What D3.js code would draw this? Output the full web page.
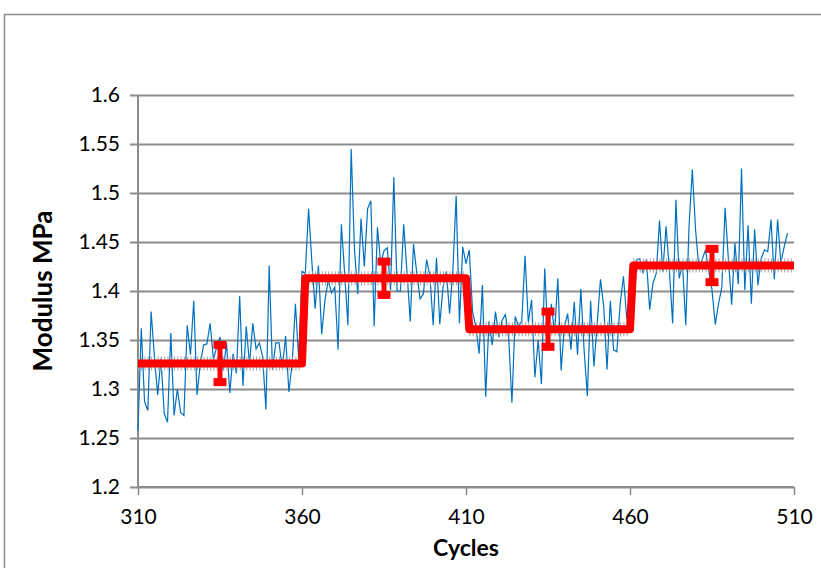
<!DOCTYPE html>
<html>
<head>
<meta charset="utf-8">
<script src="https://cdn.jsdelivr.net/npm/d3@7"></script>
<style>
  body { margin: 0; background: #fff; }
  text { font-family: Lato, "Open Sans", sans-serif; }
</style>
</head>
<body>
<div class="chart"></div>
<script>
let margin = { top: 95, right: 27, bottom: 81, left: 138 };
let width = 821 - margin.left - margin.right;
let height = 568 - margin.top - margin.bottom;

// blue series: one reading per cycle, starting at cycle 310
const firstCycle = 310;
const modulus = [
  1.258, 1.362, 1.287, 1.278, 1.379, 1.333, 1.294, 1.331, 1.275, 1.266,
  1.357, 1.273, 1.300, 1.276, 1.273, 1.365, 1.335, 1.390, 1.294, 1.326,
  1.345, 1.346, 1.367, 1.330, 1.343, 1.353, 1.319, 1.347, 1.296, 1.336,
  1.316, 1.395, 1.303, 1.364, 1.325, 1.367, 1.341, 1.347, 1.333, 1.279,
  1.426, 1.320, 1.347, 1.347, 1.321, 1.354, 1.297, 1.326, 1.387, 1.330,
  1.420, 1.418, 1.484, 1.430, 1.382, 1.426, 1.356, 1.391, 1.411, 1.398,
  1.404, 1.340, 1.468, 1.418, 1.365, 1.545, 1.442, 1.397, 1.474, 1.425,
  1.484, 1.492, 1.364, 1.465, 1.428, 1.441, 1.444, 1.401, 1.516, 1.400,
  1.400, 1.468, 1.420, 1.369, 1.448, 1.418, 1.392, 1.397, 1.432, 1.415,
  1.365, 1.434, 1.366, 1.404, 1.420, 1.377, 1.421, 1.497, 1.367, 1.445,
  1.428, 1.442, 1.379, 1.364, 1.336, 1.406, 1.292, 1.369, 1.345, 1.379,
  1.353, 1.370, 1.376, 1.353, 1.286, 1.374, 1.364, 1.369, 1.436, 1.368,
  1.391, 1.312, 1.350, 1.305, 1.423, 1.350, 1.387, 1.357, 1.413, 1.319,
  1.364, 1.377, 1.340, 1.389, 1.335, 1.402, 1.340, 1.293, 1.390, 1.323,
  1.367, 1.412, 1.384, 1.320, 1.390, 1.340, 1.338, 1.387, 1.415, 1.372,
  1.398, 1.421, 1.432, 1.433, 1.418, 1.432, 1.381, 1.408, 1.418, 1.472,
  1.420, 1.466, 1.421, 1.367, 1.493, 1.413, 1.428, 1.365, 1.466, 1.524,
  1.462, 1.423, 1.432, 1.442, 1.421, 1.401, 1.366, 1.387, 1.404, 1.485,
  1.432, 1.386, 1.449, 1.407, 1.525, 1.401, 1.467, 1.387, 1.463, 1.406,
  1.433, 1.442, 1.440, 1.473, 1.412, 1.473, 1.429, 1.445, 1.459
];

// red step series (block means)
const stepCycles = [310, 360, 361, 410, 411, 460, 461, 510];
const stepValues = [1.326, 1.326, 1.413, 1.413, 1.361, 1.361, 1.426, 1.426];

// error bars on each block
const errCycles = [335, 385, 435, 485];
const errMeans = [1.326, 1.413, 1.361, 1.426];
const errHalf = [0.019, 0.017, 0.018, 0.017];

const xTicks = [310, 360, 410, 460, 510];
const yTicks = [1.2, 1.25, 1.3, 1.35, 1.4, 1.45, 1.5, 1.55, 1.6];

let root = d3
  .select(".chart")
  .append("svg")
  .attr("width", 821)
  .attr("height", 568);

// outer chart frame
root
  .append("rect")
  .attr("x", 4.5)
  .attr("y", 14.5)
  .attr("width", 900)
  .attr("height", 700)
  .attr("fill", "none")
  .attr("stroke", "#8c8c8c")
  .attr("stroke-width", 1.5);

let svg = root.append("g").attr("transform", `translate(${margin.left}, ${margin.top})`);

let xScale = d3.scaleLinear().domain([310, 510]).range([0, width]);
let yScale = d3.scaleLinear().domain([1.2, 1.6]).range([height, 0]);

// horizontal gridlines with left ticks
svg
  .append("g")
  .call(d3.axisLeft(yScale).tickValues(yTicks).tickSize(-width - 8).tickFormat(""))
  .attr("transform", "translate(-8, 0)")
  .call(g => g.select(".domain").remove())
  .call(g => g.selectAll("line").attr("stroke", "#8c8c8c").attr("stroke-width", 2));

svg
  .append("g")
  .call(d3.axisLeft(yScale).tickValues(yTicks).tickSize(0).tickPadding(18).tickFormat(d => d3.format("")(+d.toFixed(2))))
  .call(g => g.select(".domain").remove())
  .call(g => g.selectAll("text").attr("font-size", 21).attr("fill", "#000"));

// x axis
svg
  .append("g")
  .attr("transform", `translate(0, ${height})`)
  .call(d3.axisBottom(xScale).tickValues(xTicks).tickSize(8).tickPadding(14))
  .call(g => g.select(".domain").attr("stroke", "#8c8c8c").attr("stroke-width", 2).attr("d", `M0,0H${width}`))
  .call(g => g.selectAll("line").attr("stroke", "#8c8c8c").attr("stroke-width", 1.5))
  .call(g => g.selectAll("text").attr("font-size", 21).attr("fill", "#000"));

// y axis line
svg
  .append("line")
  .attr("x1", 0)
  .attr("x2", 0)
  .attr("y1", 0)
  .attr("y2", height)
  .attr("stroke", "#8c8c8c")
  .attr("stroke-width", 2);

// blue raw data
const blueLine = d3
  .line()
  .x((d, i) => xScale(firstCycle + i))
  .y(d => yScale(d));

svg
  .append("path")
  .datum(modulus)
  .attr("d", blueLine)
  .attr("fill", "none")
  .attr("stroke", "#0070c0")
  .attr("stroke-width", 1.2);

// red step line, gray point markers drawn as a dashed band behind the flat parts
const stepLine = d3
  .line()
  .x(d => xScale(d[0]))
  .y(d => yScale(d[1]));
const stepData = stepCycles.map((c, i) => [c, stepValues[i]]);
const flats = d3.range(0, stepData.length, 2).map(i => stepData.slice(i, i + 2));

svg
  .append("g")
  .selectAll("path")
  .data(flats)
  .join("path")
  .attr("d", stepLine)
  .attr("fill", "none")
  .attr("stroke", "#a0a0a0")
  .attr("stroke-width", 14)
  .attr("stroke-dasharray", `1 ${xScale(311) - xScale(310) - 1}`);

svg
  .append("path")
  .datum(stepData)
  .attr("d", stepLine)
  .attr("fill", "none")
  .attr("stroke", "#ff0000")
  .attr("stroke-width", 8)
  .attr("stroke-linejoin", "round");

// error bars
const errData = errCycles.map((c, i) => ({ c, m: errMeans[i], e: errHalf[i] }));
const eb = svg.append("g").selectAll("g").data(errData).join("g");
eb.append("line")
  .attr("x1", d => xScale(d.c))
  .attr("x2", d => xScale(d.c))
  .attr("y1", d => yScale(d.m + d.e))
  .attr("y2", d => yScale(d.m - d.e))
  .attr("stroke", "#ff0000")
  .attr("stroke-width", 5);
[1, -1].forEach(s => {
  eb.append("line")
    .attr("x1", d => xScale(d.c) - 6.5)
    .attr("x2", d => xScale(d.c) + 6.5)
    .attr("y1", d => yScale(d.m + s * d.e))
    .attr("y2", d => yScale(d.m + s * d.e))
    .attr("stroke", "#ff0000")
    .attr("stroke-width", 8);
});

// axis titles
root
  .append("text")
  .attr("x", margin.left + width / 2)
  .attr("y", 556)
  .attr("text-anchor", "middle")
  .attr("font-size", 23)
  .attr("font-weight", "bold")
  .text("Cycles");

root
  .append("text")
  .attr("transform", `translate(52, ${margin.top + height / 2}) rotate(-90)`)
  .attr("text-anchor", "middle")
  .attr("font-size", 26)
  .attr("font-weight", "bold")
  .text("Modulus MPa");
</script>
</body>
</html>
